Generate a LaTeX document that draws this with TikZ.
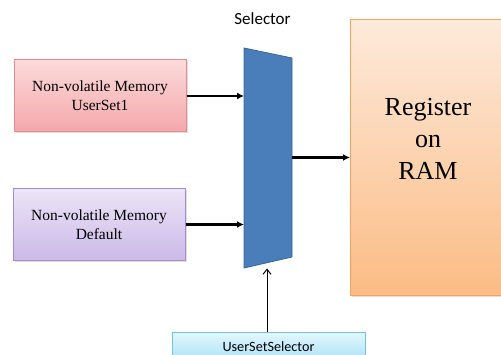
\documentclass[tikz,border=0pt]{standalone}
\usepackage{fontspec}
\setmainfont{Liberation Serif}
\newfontfamily\calib{Carlito}
\usetikzlibrary{arrows.meta,shadows}
\definecolor{pinkT}{HTML}{FCDADB}
\definecolor{pinkB}{HTML}{F4A8AB}
\definecolor{pinkD}{HTML}{E48A90}
\definecolor{purT}{HTML}{ECE4F7}
\definecolor{purB}{HTML}{CBB9E8}
\definecolor{purD}{HTML}{A38DCB}
\definecolor{cyT}{HTML}{E2F6FD}
\definecolor{cyB}{HTML}{A9E2F6}
\definecolor{cyD}{HTML}{6FC3E3}
\definecolor{muxF}{HTML}{4A7EBB}
\definecolor{muxD}{HTML}{3A6496}
\definecolor{orT}{HTML}{FDEADB}
\definecolor{orB}{HTML}{FBBC85}
\definecolor{orD}{HTML}{F7A35E}
\tikzset{
  memboxstyle/.style={rectangle, draw, line width=1pt, minimum width=172pt, minimum height=72pt,
    align=center, font=\fontsize{15.5}{19}\selectfont,
    drop shadow={opacity=0.25, shadow xshift=1.5pt, shadow yshift=-1.5pt}},
  thickarrow/.style={line width=2.2pt, -{Latex[length=7pt,width=7pt]}},
  thinarrow/.style={line width=1pt, -{Straight Barb[length=5pt,width=8pt]}},
}
\begin{document}
\begin{tikzpicture}[x=1pt,y=-1pt]
\useasboundingbox (0,0) rectangle (501,355);
\clip (0,0) rectangle (501,355);
% memory boxes
\node[memboxstyle, draw=pinkD, top color=pinkT, bottom color=pinkB] (pink) at (100,96)
  {Non-volatile Memory\\UserSet1};
\node[memboxstyle, draw=purD, top color=purT, bottom color=purB] (purple) at (99,224.5)
  {Non-volatile Memory\\Default};
% register box
\node[rectangle, draw=orD, line width=1pt, top color=orT, bottom color=orB,
  minimum width=160pt, minimum height=276pt, anchor=north west,
  drop shadow={opacity=0.25, shadow xshift=1.5pt, shadow yshift=-1.5pt}] (reg) at (350,19) {};
\node[align=center, font=\fontsize{26}{32}\selectfont] (regtext) at (428,139) {Register\\on\\RAM};
% selector trapezoid
\coordinate (mTL) at (244,48);
\coordinate (mTR) at (292,58);
\coordinate (mBR) at (292,257);
\coordinate (mBL) at (244,268);
\fill[muxF, draw=muxD, line width=0.8pt] (mTL) -- (mTR) -- (mBR) -- (mBL) -- cycle;
\node[font=\calib\fontsize{17}{20}\selectfont] (sellabel) at (262.5,19) {Selector};
% user set selector box
\node[rectangle, draw=cyD, line width=1pt, top color=cyT, bottom color=cyB,
  minimum width=193pt, minimum height=28pt, font=\calib\fontsize{14.2}{17}\selectfont] (usel) at (268.5,347) {UserSetSelector};
\coordinate (uptip) at (267,268.5);
% connectors
\draw[thickarrow] (pink.east) -- (pink.east -| mTL);
\draw[thickarrow] (purple.east) -- (purple.east -| mTL);
\draw[thickarrow] (reg.west -| mTR) -- (reg.west);
\draw[thinarrow] (usel.north -| uptip) -- (uptip);
\end{tikzpicture}
\end{document}
